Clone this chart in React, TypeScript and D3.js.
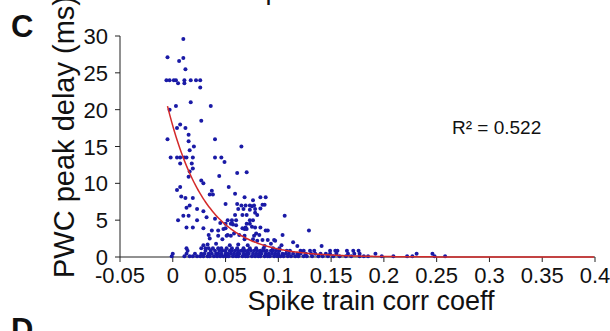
import React from 'react';
import * as d3 from 'd3';

const W = 610;
const H = 331;

// Axis ticks
const xTicks = [-0.05, 0, 0.05, 0.1, 0.15, 0.2, 0.25, 0.3, 0.35, 0.4];
const xTickLabels = ['-0.05', '0', '0.05', '0.1', '0.15', '0.2', '0.25', '0.3', '0.35', '0.4'];
const yTicks = [0, 5, 10, 15, 20, 25, 30];
const yTickLabels = ['0', '5', '10', '15', '20', '25', '30'];

// Pairs: [spike train corr coeff, PWC peak delay (ms)]
const highDelay: [number, number][] = [
  [0.010, 29.6], [-0.005, 27.1], [0.010, 27.0], [0.006, 26.6], [0.012, 25.5],
  [-0.006, 24.0], [-0.003, 24.0], [0.001, 24.0], [0.003, 24.0], [0.011, 24.0], [0.017, 24.0], [0.022, 24.0], [0.026, 24.0],
  [0.005, 23.6], [0.011, 23.6], [0.026, 23.0], [0.017, 21.0], [0.003, 20.5], [0.036, 20.5], [-0.003, 20.0],
  [0.027, 18.5], [0.007, 18.0], [0.004, 17.5], [0.012, 17.5], [-0.005, 16.0], [0.040, 16.0], [0.015, 16.6],
  [0.015, 15.7], [0.020, 15.0], [0.065, 15.0], [0.016, 14.5],
  [-0.002, 13.5], [0.004, 13.5], [0.007, 13.5], [0.011, 13.5], [0.013, 13.5], [0.019, 13.5], [0.040, 13.5], [0.046, 13.5],
  [0.049, 12.9], [0.007, 12.7], [0.018, 12.7], [0.019, 12.0], [0.016, 11.6], [0.061, 11.4], [0.070, 11.5],
  [0.015, 10.9], [0.044, 11.0], [0.027, 10.4],
];

const midDelay: [number, number][] = [
  [0.029, 10.0], [0.007, 9.5], [0.053, 9.5], [0.004, 9.1], [0.037, 9.0], [0.035, 8.5], [0.038, 8.5], [0.059, 8.6],
  [0.008, 8.2], [0.012, 8.0], [0.019, 8.0], [0.068, 8.1], [0.083, 8.1], [0.088, 8.1], [0.076, 7.7], [0.050, 7.2],
  [0.061, 7.2], [0.016, 7.0], [0.065, 7.0], [0.069, 7.0], [0.073, 7.0], [0.075, 6.9], [0.077, 7.0], [0.085, 7.1], [0.087, 7.1],
  [0.013, 6.7], [0.023, 6.5], [0.062, 6.5], [0.067, 6.5], [0.073, 6.4], [0.078, 6.5], [0.083, 6.6], [0.029, 6.2], [0.078, 6.0],
  [0.010, 5.6], [0.015, 5.6], [0.059, 5.7], [0.066, 5.7], [0.070, 5.7], [0.080, 5.7], [0.106, 5.6],
  [0.005, 5.0], [0.023, 5.0], [0.032, 5.4], [0.040, 5.2], [0.052, 5.0], [0.056, 5.0], [0.060, 5.0], [0.073, 5.0], [0.076, 5.0],
  [0.045, 4.6], [0.050, 4.5], [0.055, 4.5], [0.057, 4.4], [0.070, 4.5], [0.073, 4.5], [0.056, 4.6], [0.060, 4.3],
  [0.013, 4.0], [0.019, 4.0], [0.029, 3.9], [0.050, 3.9], [0.066, 3.9], [0.069, 4.0], [0.075, 4.1], [0.078, 4.0], [0.083, 4.0],
  [0.037, 3.6], [0.043, 3.6], [0.088, 3.6], [0.090, 3.6], [0.129, 3.6], [0.048, 3.8], [0.068, 3.8], [0.070, 3.8],
  [0.034, 3.0], [0.052, 3.0], [0.058, 3.2], [0.063, 3.0], [0.079, 3.2], [0.082, 3.0], [0.104, 3.0],
  [0.043, 2.9], [0.051, 2.9], [0.055, 2.9], [0.068, 2.9], [0.077, 2.9],
];

const lowDelay: [number, number][] = [
  [0.035, 2.5], [0.047, 2.4], [0.068, 2.4], [0.076, 2.4], [0.085, 2.3], [0.090, 2.3], [0.096, 2.3], [0.097, 2.2],
  [0.080, 2.2], [0.114, 2.0], [0.141, 1.5], [0.029, 1.6], [0.033, 1.7], [0.041, 1.8], [0.054, 1.6], [0.062, 1.7],
  [0.071, 1.6], [0.087, 1.5], [0.093, 1.8], [0.103, 1.6], [0.118, 1.5],
];

// Near-zero delays, one row per delay level
const floorRowA = [-0.001, 0.011, 0.016, 0.019, 0.023, 0.026, 0.029, 0.033, 0.035, 0.039, 0.042, 0.045, 0.048, 0.051, 0.053,
  0.057, 0.060, 0.062, 0.066, 0.069, 0.071, 0.075, 0.078, 0.081, 0.083, 0.087, 0.090, 0.092, 0.096, 0.099, 0.102, 0.105,
  0.109, 0.112, 0.116, 0.119, 0.124, 0.127, 0.132, 0.138, 0.142, 0.147, 0.152, 0.158, 0.164, 0.169, 0.177, 0.181, 0.185,
  0.198, 0.209, 0.222, 0.227, 0.248, 0.258];
const floorRowB = [0.000, 0.013, 0.021, 0.027, 0.030, 0.034, 0.037, 0.041, 0.043, 0.046, 0.050, 0.052, 0.055, 0.058, 0.061,
  0.063, 0.067, 0.070, 0.072, 0.076, 0.079, 0.082, 0.084, 0.088, 0.091, 0.094, 0.097, 0.100, 0.104, 0.107, 0.110, 0.114,
  0.118, 0.121, 0.126, 0.131, 0.135, 0.140, 0.145, 0.149, 0.155, 0.166, 0.172, 0.177, 0.192, 0.231, 0.246];
const floorRowC = [0.014, 0.031, 0.036, 0.040, 0.044, 0.047, 0.050, 0.054, 0.056, 0.059, 0.062, 0.065, 0.068, 0.071, 0.074,
  0.077, 0.080, 0.083, 0.086, 0.089, 0.093, 0.095, 0.098, 0.101, 0.108, 0.111, 0.121, 0.124, 0.130, 0.134, 0.149, 0.154,
  0.156, 0.165, 0.171, 0.176];
const floorRowD = [0.013, 0.027, 0.031, 0.034, 0.038, 0.043, 0.046, 0.051, 0.056, 0.061, 0.067, 0.073, 0.079, 0.086, 0.095, 0.101];
const floorLevels = [0.1, 0.45, 0.85, 1.2];

// Exponential trendline y = a * exp(-k x)
const fitA = 17.8;
const fitK = 28;
const fitDomain = [-0.005, 0.4];
const rSquared = '0.522';

const FONT = "'Liberation Sans', Arial, Helvetica, sans-serif";

export default function App() {
  const x = d3.scaleLinear().domain([-0.05, 0.4]).range([120, 595]);
  const y = d3.scaleLinear().domain([0, 30]).range([257, 36]);

  const floorPoints: [number, number][] = [
    ...floorRowA.map((v) => [v, floorLevels[0]] as [number, number]),
    ...floorRowB.map((v) => [v, floorLevels[1]] as [number, number]),
    ...floorRowC.map((v) => [v, floorLevels[2]] as [number, number]),
    ...floorRowD.map((v) => [v, floorLevels[3]] as [number, number]),
  ];
  const points = [...highDelay, ...midDelay, ...lowDelay, ...floorPoints];

  const fitXs = d3.range(fitDomain[0], fitDomain[1] + 1e-9, 0.002);
  const fitLine = d3
    .line<number>()
    .x((d) => x(d))
    .y((d) => y(fitA * Math.exp(-fitK * d)))
    .curve(d3.curveMonotoneX)(fitXs);

  const [x0, x1] = x.range();
  const [y0, y1] = y.range();

  return (
    <svg width={W} height={H} style={{ position: 'absolute', left: 0, top: 0, background: '#fff' }}
      fontFamily={FONT}>
      <rect width={W} height={H} fill="#fff" />
      {/* bottom of the panel above */}
      <text x={371} y={-1} fontSize={27} textAnchor="middle" fill="#111">Spike train corr coeff</text>
      <text x={11} y={37} fontSize={31} fontWeight="bold" fill="#111">C</text>
      <text x={11} y={340} fontSize={31} fontWeight="bold" fill="#111">D</text>

      {/* axes */}
      <line x1={x0} x2={x0} y1={y0} y2={y1} stroke="#222" strokeWidth={1} />
      <line x1={x0} x2={x1} y1={y0} y2={y0} stroke="#222" strokeWidth={1} />
      {yTicks.map((t, i) => (
        <g key={'y' + t}>
          <line x1={x0 - 5} x2={x0} y1={y(t)} y2={y(t)} stroke="#222" />
          <text x={108} y={y(t) + 8} fontSize={22} textAnchor="end" fill="#111">{yTickLabels[i]}</text>
        </g>
      ))}
      {xTicks.map((t, i) => (
        <g key={'x' + t}>
          <line x1={x(t)} x2={x(t)} y1={y0} y2={y0 + 5} stroke="#222" />
          <text x={x(t)} y={283} fontSize={22} textAnchor="middle" fill="#111">{xTickLabels[i]}</text>
        </g>
      ))}

      {/* scatter */}
      {points.map((p, i) => (
        <circle key={i} cx={x(p[0])} cy={y(p[1])} r={2} fill="#1a1aa6" />
      ))}

      {/* trendline */}
      <path d={fitLine || ''} fill="none" stroke="#d42a2a" strokeWidth={1.5} />

      <text x={452} y={134} fontSize={19} fill="#111">{'R\u00b2 = ' + rSquared}</text>

      <text x={371} y={310} fontSize={27} textAnchor="middle" fill="#111">Spike train corr coeff</text>
      <text transform={`translate(74,${137}) rotate(-90)`} fontSize={29} textAnchor="middle" fill="#111">
        PWC peak delay (ms)
      </text>
    </svg>
  );
}
